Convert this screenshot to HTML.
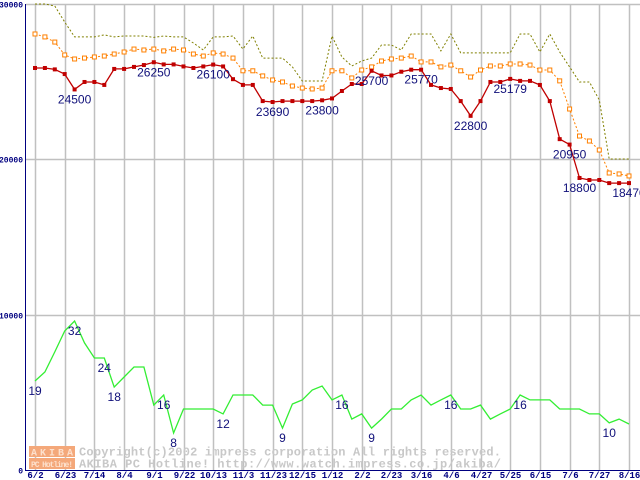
<!DOCTYPE html>
<html><head><meta charset="utf-8"><style>
html,body{margin:0;padding:0;background:#fff;}
svg{display:block;}
</style></head><body>
<svg id="chart" width="640" height="480" xmlns="http://www.w3.org/2000/svg" font-family="Liberation Sans, sans-serif">
<rect x="0" y="0" width="640" height="480" fill="#fff"/>
<g id="grid"></g>
<g id="watermark">
  <rect x="29" y="446" width="46" height="11" fill="#f4a87a"/>
  <text x="52" y="455.5" font-size="10" font-weight="bold" fill="#fde0cc" text-anchor="middle" textLength="42" font-family="Liberation Mono, monospace">AKIBA</text>
  <rect x="29" y="458" width="46" height="11" fill="#f4a87a"/>
  <text x="52" y="467" font-size="8" font-weight="bold" fill="#fde0cc" text-anchor="middle" textLength="42" font-family="Liberation Mono, monospace">PC Hotline!</text>
  <text x="79" y="455.5" font-size="12" font-weight="bold" fill="#c8c8c8" textLength="422" font-family="Liberation Mono, monospace">Copyright(c)2002 impress corporation All rights reserved.</text>
  <text x="79" y="467.5" font-size="12" font-weight="bold" fill="#c8c8c8" textLength="422" font-family="Liberation Mono, monospace">AKIBA PC Hotline! http://www.watch.impress.co.jp/akiba/</text>
</g>
<g id="series"></g>
<g id="labels"></g>
<g id="axes"></g>
</svg>
<script>
const xTickLabels = ["6/2","6/23","7/14","8/4","9/1","9/22","10/13","11/3","11/23","12/15","1/12","2/2","2/23","3/16","4/6","4/27","5/25","6/15","7/6","7/27","8/16"];
const yTickValues = [0,10000,20000,30000];
const yTickLabels = ["0","10000","20000","30000"];
const priceMin = [25880,25880,25790,25490,24500,24980,24980,24790,25820,25820,25950,26070,26250,26110,26110,25980,25880,25980,26100,25980,25160,24790,24790,23750,23690,23750,23750,23750,23750,23800,23920,24400,24850,24850,25700,25400,25400,25640,25770,25770,24790,24590,24530,23750,22800,23750,24980,24980,25179,25050,25050,24790,23750,21300,20950,18800,18670,18670,18470,18470,18470];
const priceAvg = [28070,27880,27550,26720,26460,26520,26590,26650,26780,26910,27100,27040,27100,26980,27100,27040,26780,26650,26850,26780,26520,25700,25700,25370,25110,24980,24720,24590,24530,24590,25700,25700,25240,25750,25950,26330,26460,26520,26650,26270,26270,25950,26070,25700,25300,25750,26010,26010,26140,26140,26070,25750,25750,25050,23240,21500,21180,20600,19120,19060,18930];
const priceMax = [30000,30000,29870,28840,27880,27880,27880,28010,27880,27940,27940,27940,27850,27940,27880,27880,27490,27040,27880,27880,27940,27100,27940,26520,26520,26520,25950,25040,25040,25040,27940,26590,26010,26330,26520,27360,27360,27040,28070,28070,28070,26980,28070,26850,26850,26850,26850,26850,26850,28070,28070,26910,28070,26910,25950,24980,24980,23820,20020,20020,20020];
const shopCount = [5730,6310,7600,8950,9590,8180,7210,7210,5340,5990,6630,6630,4180,4830,2380,3930,3930,3930,3930,3610,4830,4830,4830,4180,4180,2700,4250,4510,5150,5410,4510,4830,3280,3610,2700,3280,3930,3930,4510,4830,4180,4510,4830,3930,3930,4180,3280,3610,3930,4830,4510,4510,4510,3930,3930,3930,3610,3610,3030,3280,2960];
const minLabelIdx = [4,12,18,24,29,34,39,44,48,54,55,60];
const minLabelText = ["24500","26250","26100","23690","23800","25700","25770","22800","25179","20950","18800","18470"];
const countLabelIdx = [0,4,7,8,13,14,19,25,31,34,42,49,58];
const countLabelText = ["19","32","24","18","16","8","12","9","16","9","16","16","10"];

const NS = "http://www.w3.org/2000/svg";
const X0 = 35, XSTEP = 9.9, Y0 = 470, YTOP = 4, VMAX = 30000;
function xScale(i){ return X0 + i*XSTEP; }
function yScale(v){ return Y0 - v*(Y0-YTOP)/VMAX; }
function mk(tag, attrs, parent){ const e=document.createElementNS(NS,tag); for(const k in attrs) e.setAttribute(k,attrs[k]); parent.appendChild(e); return e; }

const grid = document.getElementById('grid');
const axes = document.getElementById('axes');
const series = document.getElementById('series');
const labels = document.getElementById('labels');

yTickValues.forEach((v,k)=>{
  const y = Math.round(yScale(v))+0.5;
  if (v>0){
    const l = mk('line',{x1:26,x2:640,y1:y,y2:y,stroke:'#c0c0c0','stroke-width':1.5},grid);
    
    
  }
  const t = mk('text',{x:23,y:y+3,'font-size':8,'font-weight':'bold',fill:'#000080','text-anchor':'end','font-family':'Liberation Mono, monospace'},axes);
  t.textContent = yTickLabels[k];
  
  
});
xTickLabels.forEach((lab,k)=>{
  const x = Math.round(xScale(k*3))+0.5;
  const l = mk('line',{x1:x,x2:x,y1:YTOP,y2:Y0,stroke:'#c0c0c0','stroke-width':1.5},grid);
  
  
  const t = mk('text',{x:x,y:478,'font-size':9,'font-weight':'bold',fill:'#000080','text-anchor':'middle','font-family':'Liberation Mono, monospace'},axes);
  t.textContent = lab;
  
  
});
const ya = mk('line',{x1:25.5,x2:25.5,y1:YTOP,y2:Y0+1,stroke:'#000080','stroke-width':1},axes);


const xa = mk('line',{x1:25,x2:640,y1:Y0+0.5,y2:Y0+0.5,stroke:'#000080','stroke-width':1},axes);



function pts(arr){ return arr.map((v,i)=>xScale(i).toFixed(1)+','+yScale(v).toFixed(1)).join(' '); }

const pMax = mk('polyline',{points:pts(priceMax),fill:'none',stroke:'#808000','stroke-width':1,'stroke-dasharray':'2,2'},series);



const pAvg = mk('polyline',{points:pts(priceAvg),fill:'none',stroke:'#ff8000','stroke-width':1,'stroke-dasharray':'2,2'},series);


priceAvg.forEach((v,i)=>{
  const r = mk('rect',{x:xScale(i)-2,y:yScale(v)-2,width:4,height:4,fill:'#fff',stroke:'#ff8000','stroke-width':1},series);
  
  
});

const pMin = mk('polyline',{points:pts(priceMin),fill:'none',stroke:'#c00000','stroke-width':1.3},series);


priceMin.forEach((v,i)=>{
  const r = mk('rect',{x:xScale(i)-2,y:yScale(v)-2,width:4,height:4,fill:'#c00000'},series);
  
  
});

const pCnt = mk('polyline',{points:pts(shopCount),fill:'none',stroke:'#33ee33','stroke-width':1.3},series);



minLabelIdx.forEach((idx,k)=>{
  const t = mk('text',{x:xScale(idx),y:yScale(priceMin[idx])+14,'font-size':12,fill:'#10107a','text-anchor':'middle'},labels);
  t.textContent = minLabelText[k];
  
  
});
countLabelIdx.forEach((idx,k)=>{
  const t = mk('text',{x:xScale(idx),y:yScale(shopCount[idx])+14,'font-size':12,fill:'#10107a','text-anchor':'middle'},labels);
  t.textContent = countLabelText[k];
  
  
});
</script>
</body></html>
